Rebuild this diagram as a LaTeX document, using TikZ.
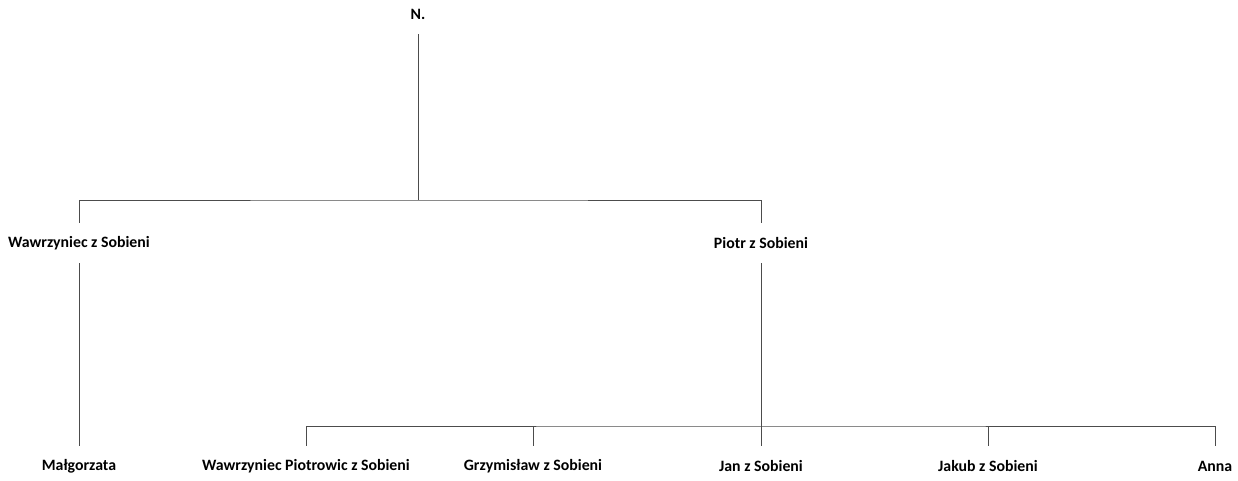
\documentclass[tikz,border=0pt]{standalone}
\usepackage{fontspec}
\setmainfont{Carlito}
\tikzset{
    person/.style={font=\bfseries\fontsize{9}{11}\selectfont, minimum height=0.8cm, inner sep=0pt},
    link/.style={draw=black!70, line width=0.5pt}
}
\begin{document}
\begin{tikzpicture}
    \useasboundingbox (0,0) rectangle (24.76,9.6);

    \node[person] (n) at (8.36,9.32) {N.};

    \node[person] (wawrzyniec) at (1.58,4.74) {Wawrzyniec z Sobieni};
    \node[person] (piotr) at (15.22,4.74) {Piotr z Sobieni};

    \node[person] (malgorzata) at (1.58,0.28) {Małgorzata};
    \node[person] (wawrzyniecp) at (6.12,0.28) {Wawrzyniec Piotrowic z Sobieni};
    \node[person] (grzymislaw) at (10.66,0.28) {Grzymisław z Sobieni};
    \node[person] (jan) at (15.22,0.28) {Jan z Sobieni};
    \node[person] (jakub) at (19.76,0.28) {Jakub z Sobieni};
    \node[person] (anna) at (24.30,0.28) {Anna};

    \coordinate (top) at (8.36,5.6);
    \coordinate (row) at (15.22,1.08);

    \draw[link] (n) -- (top);
    \draw[link] (wawrzyniec) |- (top) -| (piotr);
    \draw[link] (wawrzyniec) -- (malgorzata);
    \draw[link] (piotr) -- (jan);
    \draw[link] (wawrzyniecp) |- (row) -| (anna);
    \draw[link] (grzymislaw) -- (grzymislaw |- row);
    \draw[link] (jakub) -- (jakub |- row);
\end{tikzpicture}
\end{document}
